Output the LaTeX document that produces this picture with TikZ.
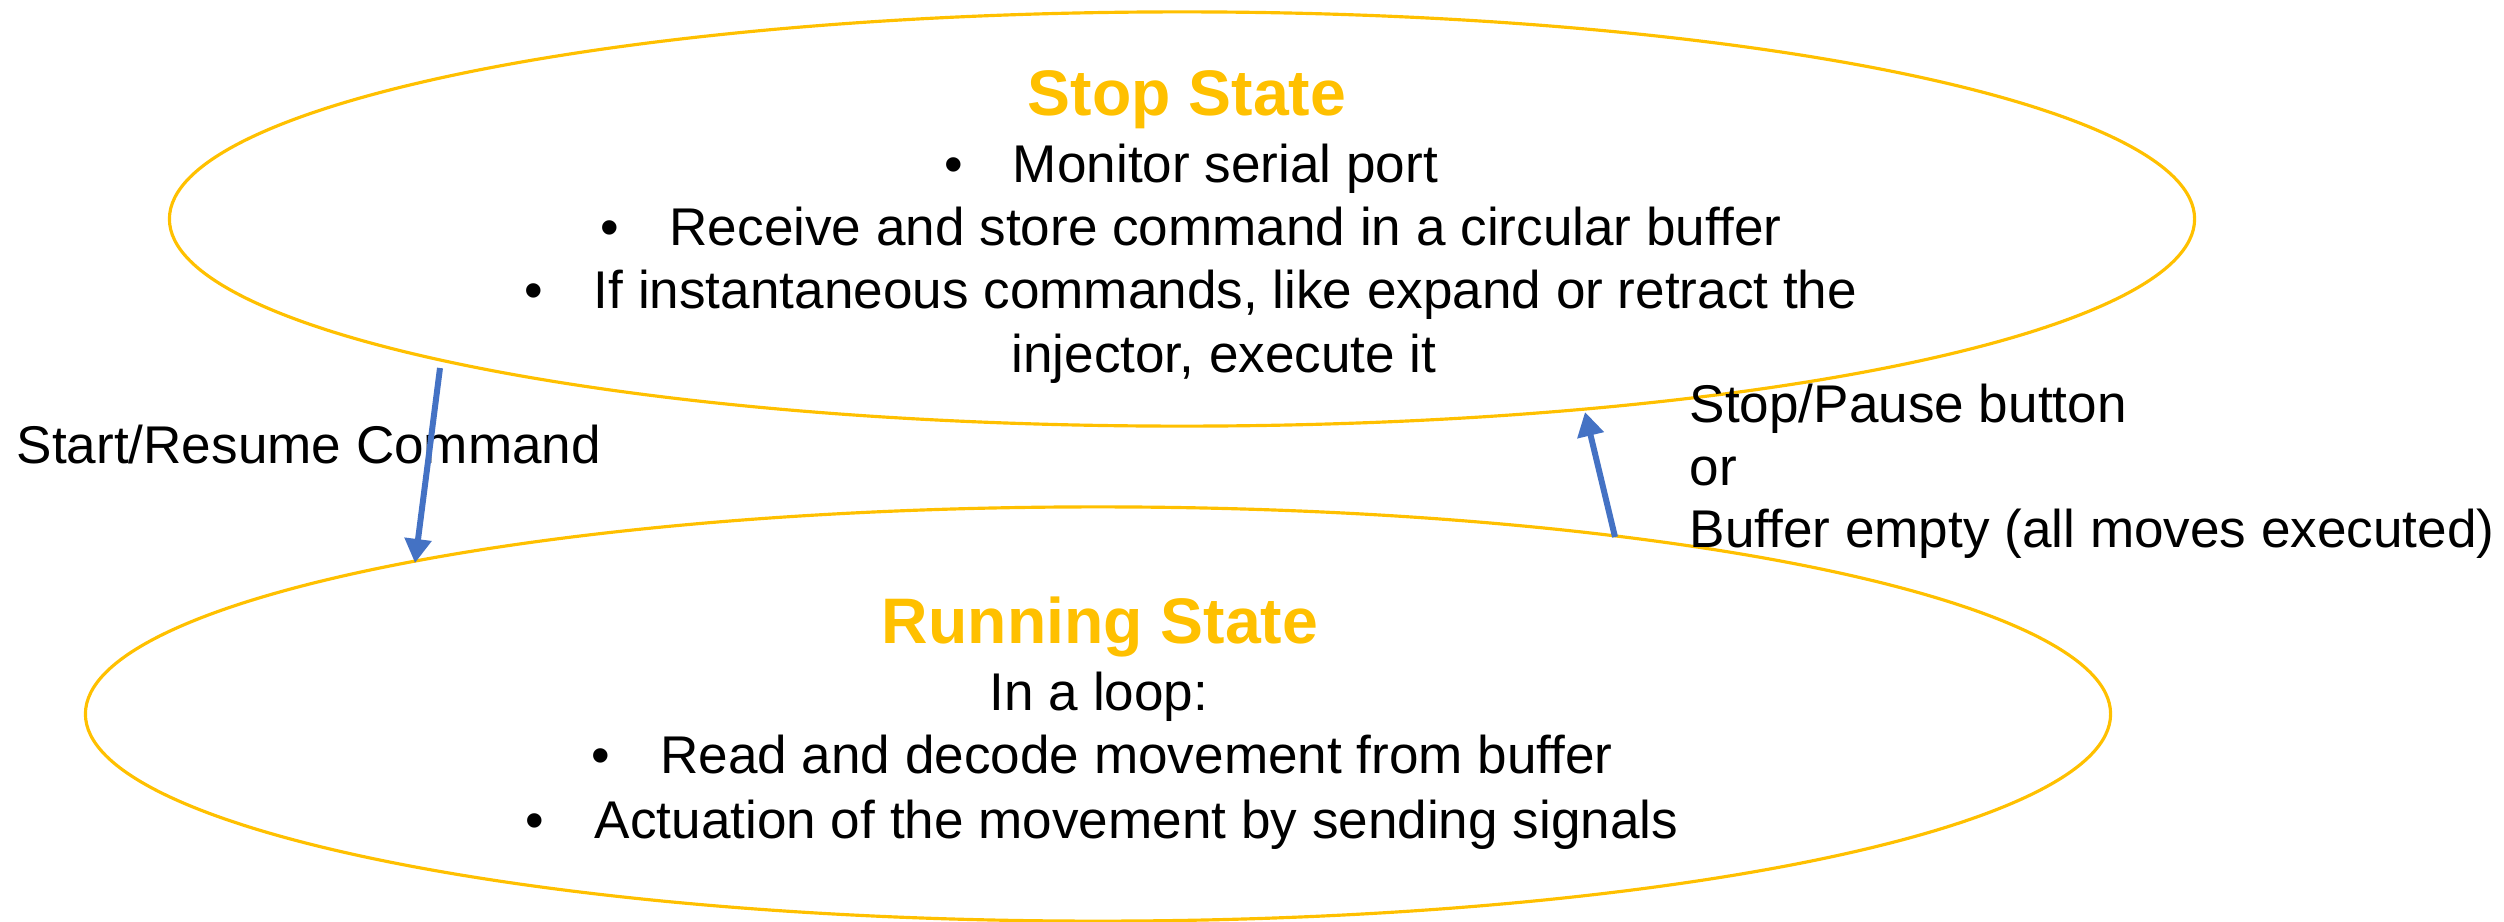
\documentclass[tikz,border=0pt]{standalone}
\usepackage{fontspec}
\setmainfont{Liberation Sans}
\usetikzlibrary{shapes,arrows.meta,positioning}
\definecolor{stategold}{HTML}{FFC000}
\definecolor{arrowblue}{HTML}{4472C4}
\tikzset{
	state/.style={shape=ellipse, draw=stategold, line width=0.9pt, minimum width=20.24cm, minimum height=4.14cm, inner sep=0pt},
	title/.style={anchor=base, inner sep=0pt, text=stategold, font=\fontsize{18.3pt}{22pt}\selectfont\bfseries},
	txt/.style={anchor=base, inner sep=0pt, font=\fontsize{15.1pt}{18pt}\selectfont},
	trans/.style={color=arrowblue, line width=1.7pt, -{Triangle[length=0.24cm,width=0.26cm]}}
}
\newcommand{\itm}{\makebox[1.3em][l]{•}}

\begin{document}
\begin{tikzpicture}[x=0.01cm,y=-0.01cm]
	\useasboundingbox (0,0) rectangle (2504,921);
	\node[state] (stop) at (1182,219) {};
	\node[state] (run) at (1098,714) {};
	
	\node[title] (stoptitle) at (1187,115) {Stop State};
	\node[txt] (stop1) at (1191,182) {\itm Monitor serial port};
	\node[txt] (stop2) at (1191,245) {\itm Receive and store command in a circular buffer};
	\node[txt] (stop3) at (1191,308) {\itm If instantaneous commands, like expand or retract the};
	\node[txt] (stop4) at (1224,372) {injector, execute it};
	
	\node[title] (runtitle) at (1100,643) {Running State};
	\node[txt] (run0) at (1099,710) {In a loop:};
	\node[txt] (run1) at (1102,773) {\itm Read and decode movement from buffer};
	\node[txt] (run2) at (1102,838) {\itm Actuation of the movement by sending signals};
	
	\node[txt, anchor=base west] (startlbl) at (16,463) {Start/Resume Command};
	\node[txt, anchor=base west] (pauselbl1) at (1689,422) {Stop/Pause button};
	\node[txt, anchor=base west] (pauselbl2) at (1689,485) {or};
	\node[txt, anchor=base west] (pauselbl3) at (1689,547) {Buffer empty (all moves executed)};
	
	\coordinate (stopout) at (440,368);
	\coordinate (runin) at (415,563);
	\coordinate (runout) at (1615,537);
	\coordinate (stopin) at (1585,412);
	
	\path [trans]
	(stopout) edge (runin)
	(runout) edge (stopin);
\end{tikzpicture}
\end{document}
